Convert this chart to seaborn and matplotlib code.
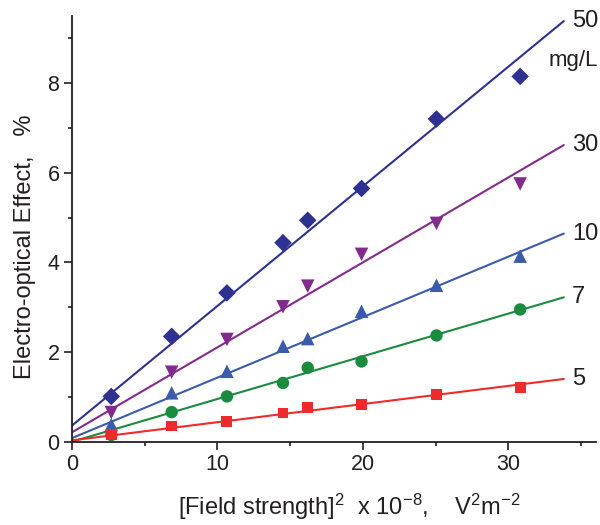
import numpy as np
import pandas as pd
import seaborn as sns
import matplotlib.pyplot as plt
from matplotlib.ticker import MultipleLocator

# data
field_sq = [2.7, 6.85, 10.65, 14.5, 16.2, 19.9, 25.05, 30.8]
conc_labels = ["50", "30", "10", "7", "5"]
effect_50 = [1.01, 2.35, 3.32, 4.44, 4.94, 5.65, 7.20, 8.15]
effect_30 = [0.65, 1.55, 2.28, 3.01, 3.47, 4.18, 4.87, 5.75]
effect_10 = [0.38, 1.09, 1.57, 2.13, 2.30, 2.91, 3.49, 4.14]
effect_7 = [0.15, 0.66, 1.01, 1.31, 1.65, 1.79, 2.37, 2.95]
effect_5 = [0.17, 0.35, 0.46, 0.64, 0.77, 0.84, 1.06, 1.21]
# linear fits (intercept, slope) as drawn in the figure
fit_intercept = [0.36, 0.21, 0.08, 0.0, 0.03]
fit_slope = [0.267, 0.1896, 0.135, 0.0953, 0.0405]
fit_x_end = 33.8

colors = {"50": "#2E3192", "30": "#832B8D", "10": "#3A5BA9", "7": "#1B8B3F", "5": "#EE2A2A"}
markers = {"50": "D", "30": "v", "10": "^", "7": "o", "5": "s"}

pts = pd.DataFrame({
    "x": field_sq * 5,
    "y": effect_50 + effect_30 + effect_10 + effect_7 + effect_5,
    "conc": [c for c in conc_labels for _ in field_sq],
})
fx = np.array([0.0, fit_x_end])
fits = pd.concat([
    pd.DataFrame({"x": fx, "y": b + m * fx, "conc": c})
    for c, b, m in zip(conc_labels, fit_intercept, fit_slope)
])

sns.set_style("ticks")
plt.rcParams["font.family"] = ["Liberation Sans", "DejaVu Sans"]
plt.rcParams["mathtext.fontset"] = "custom"
plt.rcParams["mathtext.rm"] = "Liberation Sans"
plt.rcParams["mathtext.it"] = "Liberation Sans:italic"

fig = plt.figure(figsize=(6, 5.25), dpi=100)
ax = fig.add_axes([0.12, 0.1587, 0.873, 0.811])

sns.lineplot(data=fits, x="x", y="y", hue="conc", palette=colors,
             linewidth=1.5, legend=False, ax=ax, zorder=2)
sizes = {"50": 80, "30": 95, "10": 95, "7": 80, "5": 62}
for c in conc_labels:
    sub = pts[pts["conc"] == c]
    sns.scatterplot(data=sub, x="x", y="y", color=colors[c], marker=markers[c],
                    s=sizes[c], edgecolor="none", legend=False, ax=ax, zorder=3)

# line-end labels
for c, b, m in zip(conc_labels, fit_intercept, fit_slope):
    ax.text(34.35, b + m * fit_x_end, c, fontsize=17, va="center", ha="left",
            color="#231F20", clip_on=False)
ax.text(32.75, 8.5, "mg/L", fontsize=16, va="center", ha="left",
        color="#231F20", clip_on=False)

ax.set_xlim(0, 36)
ax.set_ylim(0, 9.5)
ax.xaxis.set_major_locator(MultipleLocator(10))
ax.xaxis.set_minor_locator(MultipleLocator(5))
ax.yaxis.set_major_locator(MultipleLocator(2))
ax.yaxis.set_minor_locator(MultipleLocator(1))
ax.tick_params(which="major", direction="out", length=5.5, width=1.2,
               labelsize=15.5, colors="#231F20")
ax.tick_params(which="minor", direction="out", length=3, width=1.2,
               colors="#231F20")
sns.despine(ax=ax)
for s in ["left", "bottom"]:
    ax.spines[s].set_linewidth(1.3)
    ax.spines[s].set_color("#231F20")

ax.set_xlabel(r"[Field strength]$^{2}$  x 10$^{-8}$,    V$^{2}$m$^{-2}$",
              fontsize=17, color="#231F20", va="center")
ax.set_ylabel("Electro-optical Effect,   %", fontsize=17, color="#231F20",
              va="center")
ax.xaxis.set_label_coords(0.53, -0.152)
ax.yaxis.set_label_coords(-0.09, 0.459)

fig.savefig("out.png", dpi=100)
